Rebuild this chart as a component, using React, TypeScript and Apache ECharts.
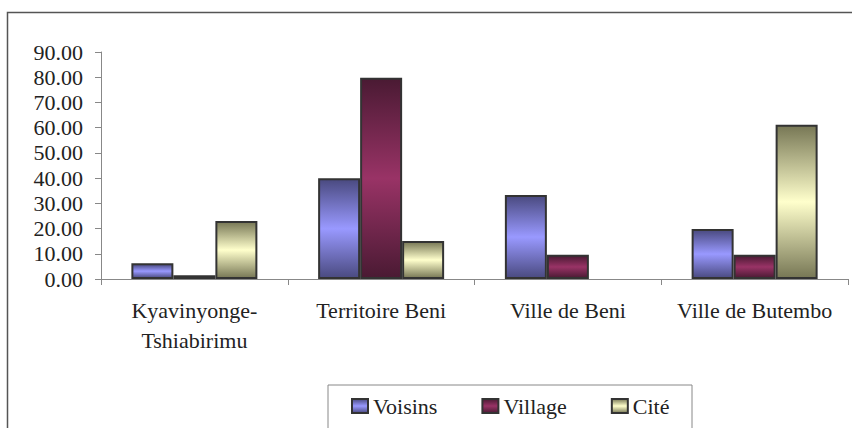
import React, { useEffect, useRef } from "react";
import * as echarts from "echarts";

const categories = ["Kyavinyonge-\nTshiabirimu", "Territoire Beni", "Ville de Beni", "Ville de Butembo"];
const voisins = [6.2, 39.9, 33.3, 19.8];
const village = [1.5, 79.8, 9.6, 9.6];
const cite: (number | null)[] = [23.0, 15.1, null, 61.2];
const seriesNames = ["Voisins", "Village", "Cité"];

const FONT = '"Liberation Serif", "Times New Roman", serif';

function grad(dark: string, light: string) {
  return new echarts.graphic.LinearGradient(0, 0, 0, 1, [
    { offset: 0, color: dark },
    { offset: 0.5, color: light },
    { offset: 1, color: dark },
  ]);
}

export default function App() {
  const ref = useRef<HTMLDivElement>(null);
  useEffect(() => {
    if (!ref.current) return;
    const chart = echarts.init(ref.current, undefined, { renderer: "svg" });
    const palette = [
      grad("#4a4a80", "#9999ff"),
      grad("#4a1a33", "#993366"),
      grad("#777755", "#ffffcc"),
    ];
    const datas = [voisins, village, cite];
    chart.setOption({
      animation: false,
      backgroundColor: "#ffffff",
      textStyle: { fontFamily: FONT },
      grid: { left: 101, right: 4, top: 52, bottom: 149, containLabel: false },
      graphic: [
        {
          type: "rect",
          shape: { x: 7.5, y: 12.5, width: 900, height: 500 },
          style: { fill: "none", stroke: "#555555", lineWidth: 1.5 },
          silent: true,
        },
        {
          type: "rect",
          shape: { x: 328, y: 385, width: 364, height: 80 },
          style: { fill: "none", stroke: "#888888", lineWidth: 1 },
          silent: true,
        },
      ],
      legend: {
        left: 351,
        top: 395,
        padding: 0,
        itemWidth: 16,
        itemHeight: 14,
        itemGap: 44,
        icon: "rect",
        data: seriesNames,
        textStyle: { fontFamily: FONT, fontSize: 22, color: "#222222" },
      },
      xAxis: {
        type: "category",
        data: categories,
        axisLine: { lineStyle: { color: "#888888", width: 1 } },
        axisTick: { show: true, length: 6, lineStyle: { color: "#888888" } },
        axisLabel: {
          fontFamily: FONT,
          fontSize: 22,
          color: "#222222",
          margin: 16,
          lineHeight: 30,
          interval: 0,
        },
      },
      yAxis: {
        type: "value",
        min: 0,
        max: 90,
        interval: 10,
        splitLine: { show: false },
        axisLine: { show: true, lineStyle: { color: "#888888", width: 1 } },
        axisTick: { show: true, length: 6, lineStyle: { color: "#888888" } },
        axisLabel: {
          fontFamily: FONT,
          fontSize: 22,
          color: "#222222",
          margin: 18,
          formatter: (v: number) => v.toFixed(2),
        },
      },
      series: seriesNames.map((name, i) => ({
        name,
        type: "bar",
        data: datas[i],
        barWidth: 42,
        barGap: "0%",
        itemStyle: { color: palette[i], borderColor: "#333333", borderWidth: 2 },
        emphasis: { disabled: true },
      })),
    });
    return () => chart.dispose();
  }, []);
  return (
    <div
      ref={ref}
      style={{ position: "fixed", left: 0, top: 0, width: 852, height: 428 }}
    />
  );
}
